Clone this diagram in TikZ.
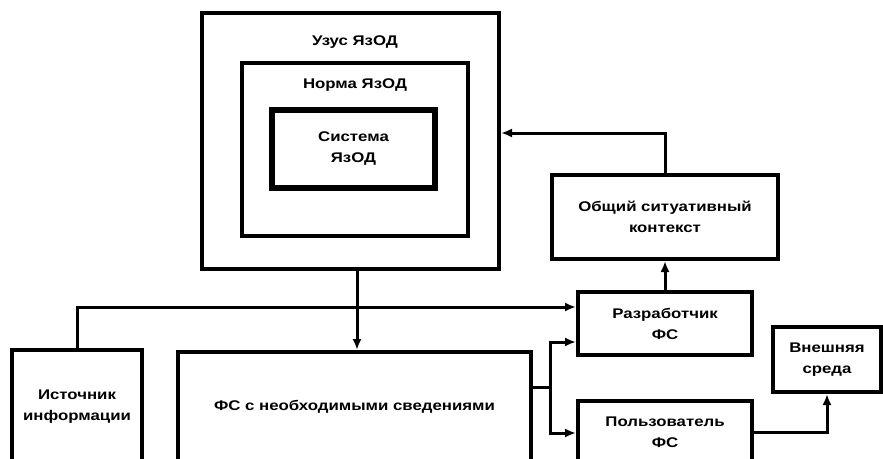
\documentclass[tikz,border=0pt]{standalone}
\usepackage{fontspec}
\setmainfont{Liberation Sans}[FakeStretch=1.2]
\usetikzlibrary{arrows.meta}
\begin{document}
\begin{tikzpicture}[x=1pt,y=-1pt,
  box/.style={draw=black,line width=4pt,rectangle,inner sep=0pt,align=center,
    font=\bfseries\fontsize{14}{21}\selectfont},
  lbl/.style={inner sep=0pt,font=\bfseries\fontsize{14}{21}\selectfont},
  conn/.style={line width=3pt},
  arr/.style={line width=3pt,-{Latex[length=11pt,width=9pt]}}]
\useasboundingbox (0,0) rectangle (883,458);
\fill[white] (0,0) rectangle (883,458);
% boxes
\node[box,minimum width=297pt,minimum height=256pt] (uzus) at (350.5,141) {};
\node[lbl] (uzusl) at (355,42) {Узус ЯзОД};
\node[box,minimum width=226pt,minimum height=173pt] (norma) at (355,149.5) {};
\node[lbl] (normal) at (355,85) {Норма ЯзОД};
\node[box,line width=6pt,minimum width=163pt,minimum height=78pt] (sist) at (353.5,149) {Система\\ЯзОД};
\node[box,minimum width=226pt,minimum height=84pt] (obsh) at (665,217) {Общий ситуативный\\контекст};
\node[box,minimum width=174pt,minimum height=63pt] (razr) at (665,323.5) {Разработчик\\ФС};
\node[box,minimum width=108pt,minimum height=65pt] (vnesh) at (827,359.5) {Внешняя\\среда};
\node[box,minimum width=174pt,minimum height=124pt] (polz) at (665,463) {};
\node[lbl,align=center] (polzl) at (665,432) {Пользователь\\ФС};
\node[box,minimum width=130pt,minimum height=114pt] (ist) at (77,407) {Источник\\информации};
\node[box,minimum width=353pt,minimum height=110pt] (fs) at (354.5,407) {ФС с необходимыми сведениями};
% helper coordinates
\coordinate (vx) at (357,0);
\coordinate (h1) at (0,307);
\coordinate (h2) at (0,133);
\coordinate (j) at (550,387);
\coordinate (h3) at (0,342);
\coordinate (h4) at (0,433);
\coordinate (h5) at (0,432);
% connectors
\draw[arr] (obsh.north) |- (uzus.east |- h2);
\draw[arr] (razr.north) -- (obsh.south);
\draw[arr] (uzus.south -| vx) -- (fs.north -| vx);
\draw[arr] (ist.north) |- (razr.west |- h1);
\draw[conn] (fs.east |- j) -- (j);
\draw[arr] (j) |- (razr.west |- h3);
\draw[arr] (j) |- (polz.west |- h4);
\draw[arr] (polz.east |- h5) -| (vnesh.south);
\end{tikzpicture}
\end{document}
